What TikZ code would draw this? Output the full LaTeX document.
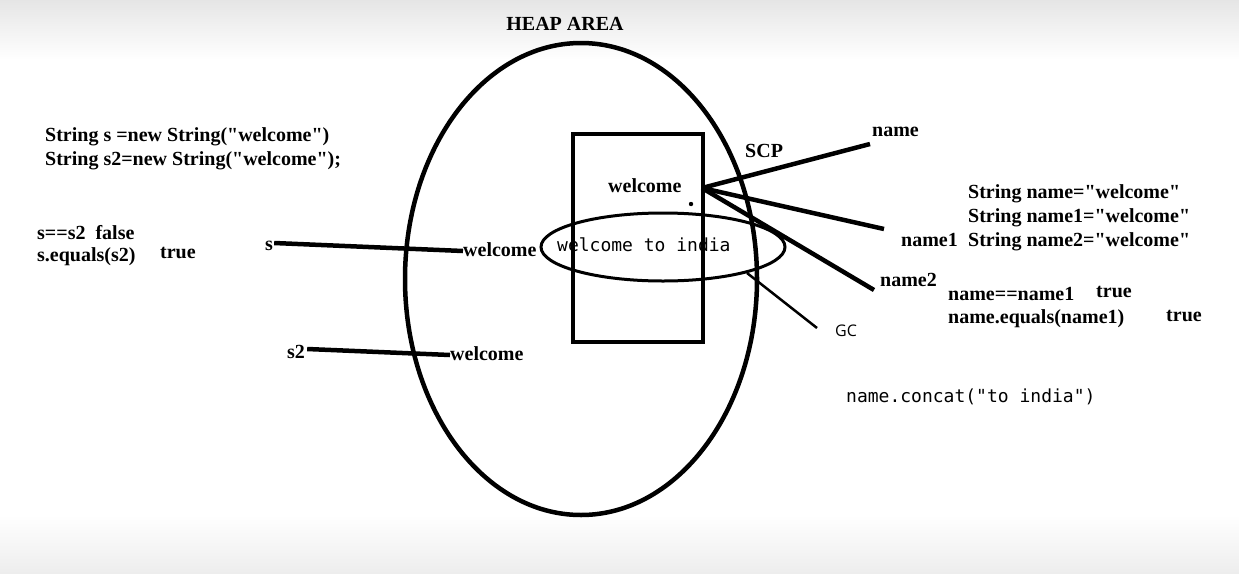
\documentclass[tikz,border=0pt]{standalone}
\usepackage{fontspec}
\setmainfont{Liberation Serif}[Ligatures=TeXOff]
\newfontfamily\codefont{DejaVu Sans Mono}
\newfontfamily\uisans{Open Sans}
\begin{document}
\begin{tikzpicture}[x=1pt,y=-1pt,
  lbl/.style={font=\fontsize{20}{22}\selectfont\bfseries, inner sep=0pt, anchor=west, text height=14pt, text depth=4pt},
  mono/.style={font=\fontsize{18}{20}\selectfont\codefont, inner sep=0pt, anchor=west, text height=13pt, text depth=4pt},
  ref/.style={line width=4.5pt}]
\useasboundingbox (0,0) rectangle (1239,573);
\fill[white] (0,0) rectangle (1239,573);
\shade[top color=black!10, bottom color=white] (0,0) rectangle (1239,60);
\shade[top color=white, bottom color=black!7] (0,515) rectangle (1239,573);

% heap area
\node[lbl, anchor=center] (heap) at (565,25) {HEAP AREA};
\draw[line width=4.5pt] (581,279) ellipse [x radius=176, y radius=236];

% SCP box
\draw[line width=4.5pt] (573,134) rectangle (703,342);
\node[lbl] (wscp) at (608,187) {welcome};
\fill (691,204) circle (2.2);
\draw[line width=3pt] (663,247) ellipse [x radius=122, y radius=34];
\node[mono] (wti) at (557,247) {welcome to india};
\node[lbl] (scp) at (745,152) {SCP};

% references from SCP object
\coordinate (hub) at (702,188);
\coordinate (e0) at (870,144);
\coordinate (e1) at (884,229);
\coordinate (e2) at (874,290);
\draw[ref] (hub) -- (e0);
\draw[ref] (hub) -- (e1);
\draw[ref] (hub) -- (e2);
\node[lbl] (n0) at (872,131) {name};
\node[lbl] (n1) at (901,241) {name1};
\node[lbl] (n2) at (880,281) {name2};

% GC line
\coordinate (g0) at (747,273);
\coordinate (g1) at (817,328);
\draw[line width=2.5pt] (g0) -- (g1);
\node[font=\fontsize{16}{18}\selectfont\uisans, inner sep=0pt, anchor=west] (gc) at (835,331) {GC};

% heap objects
\node[lbl] (s) at (265,245) {s};
\node[lbl] (w1) at (463,251) {welcome};
\draw[ref] (s.east) ++(1,-2) coordinate (sa) (sa) -- (w1.west);
\node[lbl] (s2) at (287,353) {s2};
\node[lbl] (w2) at (450,355) {welcome};
\draw[ref] (s2.east) ++(2,-4) coordinate (s2a) (s2a) -- (w2.west);

% left code
\node[lbl] (c1) at (45,136) {String s =new String("welcome")};
\node[lbl] (c2) at (45,160) {String s2=new String("welcome");};
\node[lbl] (c3) at (37,234) {s==s2\ \ false};
\node[lbl] (c4) at (37,256) {s.equals(s2)};
\node[lbl] (c5) at (160,253) {true};

% right code
\node[lbl] (r1) at (968,193) {String name="welcome"};
\node[lbl] (r2) at (968,217) {String name1="welcome"};
\node[lbl] (r3) at (968,241) {String name2="welcome"};
\node[lbl] (r4) at (948,295) {name==name1};
\node[lbl] (r5) at (1096,292) {true};
\node[lbl] (r6) at (948,318) {name.equals(name1)};
\node[lbl] (r7) at (1166,316) {true};
\node[mono] (cc) at (846,398) {name.concat("to india")};
\end{tikzpicture}
\end{document}
